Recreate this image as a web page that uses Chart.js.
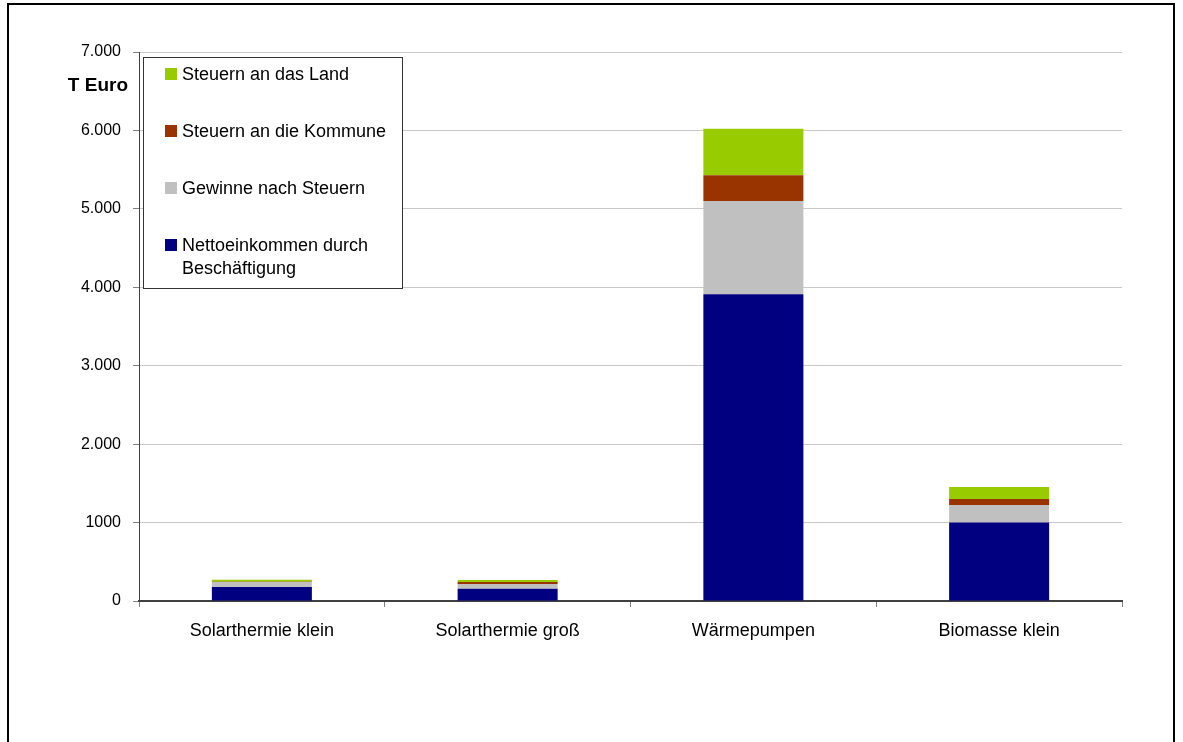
<!DOCTYPE html>
<html>
<head>
<meta charset="utf-8">
<script src="https://cdn.jsdelivr.net/npm/chart.js@4"></script>
<style>
  html, body { margin: 0; padding: 0; background: #fff; }
  #wrap { width: 1183px; height: 742px; position: relative; }
</style>
</head>
<body>
<div id="wrap"><canvas id="chart" width="1183" height="742"></canvas></div>
<script>
// categories and stacked values (T Euro)
const categories = ['Solarthermie klein', 'Solarthermie groß', 'Wärmepumpen', 'Biomasse klein'];
const nettoeinkommen = [180, 155, 3910, 1000];
const gewinne = [62, 62, 1190, 225];
const steuernKommune = [4, 25, 330, 75];
const steuernLand = [24, 25, 590, 155];
const yTickLabels = ['0', '1000', '2.000', '3.000', '4.000', '5.000', '6.000', '7.000'];

const FONT = '"Liberation Sans", Arial, sans-serif';

// outer frame, axis unit and the boxed legend drawn inside the plot
const framePlugin = {
  id: 'frame',
  beforeDraw(chart) {
    const ctx = chart.ctx;
    ctx.save();
    ctx.fillStyle = '#fff';
    ctx.fillRect(0, 0, chart.width, chart.height);
    ctx.strokeStyle = '#000';
    ctx.lineWidth = 2;
    ctx.strokeRect(8, 4, 1166, 760);
    ctx.restore();
  },
  afterDraw(chart) {
    const ctx = chart.ctx;
    ctx.save();
    ctx.font = 'bold 19px ' + FONT;
    ctx.fillStyle = '#000';
    ctx.textAlign = 'right';
    ctx.textBaseline = 'middle';
    ctx.fillText('T Euro', 128, 86);

    // legend box
    ctx.fillStyle = '#fff';
    ctx.fillRect(143, 57, 259, 231);
    ctx.strokeStyle = '#333';
    ctx.lineWidth = 1;
    ctx.strokeRect(143.5, 57.5, 259, 231);

    ctx.font = '18px ' + FONT;
    ctx.textAlign = 'left';
    const items = chart.data.datasets.slice().reverse();
    items.forEach((ds, i) => {
      const y = 74 + i * 57;
      ctx.fillStyle = ds.backgroundColor;
      ctx.fillRect(165, y - 6, 12, 12);
      ctx.fillStyle = '#000';
      const lines = Array.isArray(ds.legendLines) ? ds.legendLines : [ds.label];
      lines.forEach((ln, j) => ctx.fillText(ln, 182, y + 1 + j * 23));
    });
    ctx.restore();
  }
};

new Chart(document.getElementById('chart'), {
  type: 'bar',
  data: {
    labels: categories,
    datasets: [
      { label: 'Nettoeinkommen durch Beschäftigung', legendLines: ['Nettoeinkommen durch', 'Beschäftigung'], data: nettoeinkommen, backgroundColor: '#000080' },
      { label: 'Gewinne nach Steuern', data: gewinne, backgroundColor: '#C0C0C0' },
      { label: 'Steuern an die Kommune', data: steuernKommune, backgroundColor: '#993300' },
      { label: 'Steuern an das Land', data: steuernLand, backgroundColor: '#99CC00' }
    ]
  },
  plugins: [framePlugin],
  options: {
    responsive: false,
    animation: false,
    layout: { padding: { left: 0, right: 61, top: 52, bottom: 0 } },
    datasets: { bar: { categoryPercentage: 1, barPercentage: 0.407, borderWidth: 0 } },
    plugins: { legend: { display: false }, tooltip: { enabled: false } },
    scales: {
      x: {
        stacked: true,
        offset: true,
        afterFit(scale) { scale.height = 141; },
        grid: { offset: true, drawOnChartArea: false, drawTicks: true, tickLength: 6, tickColor: '#808080' },
        border: { color: '#404040', width: 2 },
        ticks: { color: '#000', font: { family: FONT, size: 18 }, padding: 13, maxRotation: 0 }
      },
      y: {
        stacked: true,
        min: 0,
        max: 7000,
        afterFit(scale) { scale.width = 139; },
        grid: {
          color: ctx => (ctx.index === 0 ? 'rgba(0,0,0,0)' : '#c8c8c8'),
          lineWidth: 1,
          tickLength: 6,
          tickColor: '#808080'
        },
        border: { color: '#404040', width: 1 },
        ticks: {
          stepSize: 1000,
          color: '#000',
          font: { family: FONT, size: 16 },
          padding: 12,
          callback: (v, i) => yTickLabels[i]
        }
      }
    }
  }
});
</script>
</body>
</html>
